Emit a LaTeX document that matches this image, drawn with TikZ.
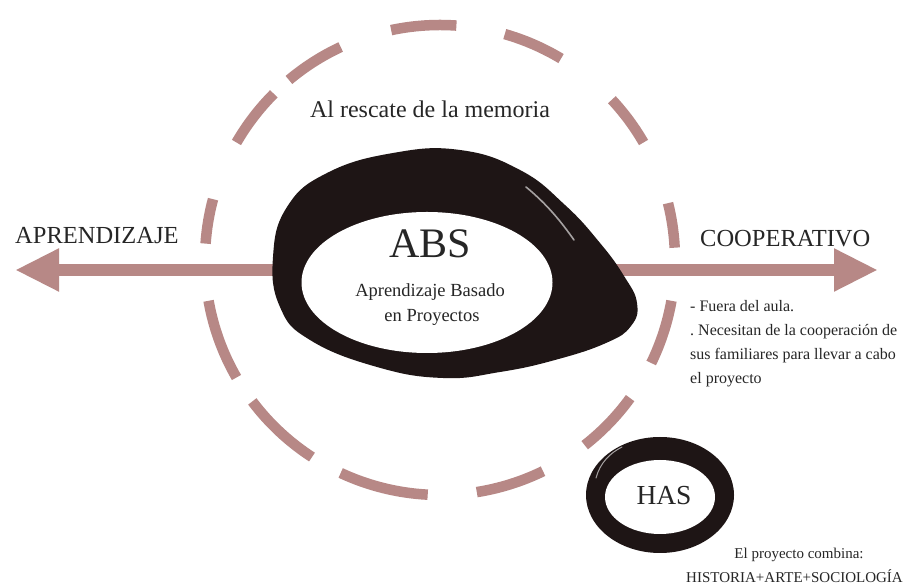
\documentclass[tikz,border=0pt]{standalone}
\usepackage{fontspec}
\setmainfont{Liberation Serif}
\usetikzlibrary{shapes.geometric,arrows.meta}
\definecolor{dustpink}{RGB}{183,136,134}
\definecolor{inkblack}{RGB}{30,21,21}
\pgfdeclarelayer{bg}
\pgfsetlayers{bg,main}
\frenchspacing
\begin{document}
\begin{tikzpicture}[x=1pt,y=1pt,
  brushdash/.style={draw=dustpink,line width=10.5pt},
  bigarrow/.style={draw=dustpink,line width=12pt,-{Triangle[width=40pt,length=44pt]}},
  whitehole/.style={ellipse,fill=white,inner sep=0pt},
  inkring/.style={fill=inkblack},
  sheen/.style={draw=white!60!inkblack,line width=1.6pt,line cap=round},
  lbl/.style={inner sep=0pt,text=black!85}]
\useasboundingbox (0,0) rectangle (904,588);

% ---- main nodes ----
\node[whitehole,minimum width=251pt,minimum height=141pt] (abs) at (427,305.5) {};
\node[lbl,anchor=base,font=\fontsize{42}{42}\selectfont] (abst) at (430,330) {ABS};
\node[lbl,anchor=base,font=\fontsize{18.5}{20}\selectfont] (absa) at (430,291) {Aprendizaje Basado};
\node[lbl,anchor=base,font=\fontsize{18.5}{20}\selectfont] (absb) at (432,266) {en Proyectos};

\node[whitehole,minimum width=110pt,minimum height=74pt] (has) at (660,91) {};
\node[lbl,anchor=base,font=\fontsize{27.5}{28}\selectfont] (hast) at (664,83) {HAS};

\node[lbl,anchor=base,font=\fontsize{24}{26}\selectfont] (memo) at (430,470) {Al rescate de la memoria};
\node[lbl,anchor=base west,font=\fontsize{24.5}{26}\selectfont] (apr) at (15,344) {APRENDIZAJE};
\node[lbl,anchor=base west,font=\fontsize{24.5}{26}\selectfont] (coop) at (700,341) {COOPERATIVO};

\node[lbl,anchor=base west,font=\fontsize{16}{18}\selectfont] (r1) at (690,276) {- Fuera del aula.};
\node[lbl,anchor=base west,font=\fontsize{16}{18}\selectfont] (r2) at (690,252) {. Necesitan de la cooperación de};
\node[lbl,anchor=base west,font=\fontsize{16}{18}\selectfont] (r3) at (690,228) {sus familiares para llevar a cabo};
\node[lbl,anchor=base west,font=\fontsize{16}{18}\selectfont] (r4) at (690,204) {el proyecto};

\node[lbl,anchor=base,font=\fontsize{15}{17}\selectfont] (c1) at (799,29) {El proyecto combina:};
\node[lbl,anchor=base east,font=\fontsize{15}{17}\selectfont] (c2) at (903,5) {HISTORIA+ARTE+SOCIOLOGÍA};

\coordinate (ltip) at (15,318);
\coordinate (rtip) at (878,318);

\begin{pgfonlayer}{bg}
  \fill[white] (0,0) rectangle (904,588);
  % dashed brush circle
  \foreach \a/\b in {86/102,59/74,30/43,3/14,-26/-10,-52/-36,-81/-64,-115/-93,-143/-123,-170/-150,165/176,135/150,115/130}{
    \draw[brushdash] ([shift={(\a:235)}]440,328) arc[start angle=\a,end angle=\b,radius=235];
  }
  % arrows
  \draw[bigarrow] (abs.center |- ltip) -- (ltip);
  \draw[bigarrow] (abs.center |- rtip) -- (rtip);
  % ABS ink blob
  \fill[inkring] plot[smooth cycle,tension=0.75] coordinates {
    (287,381) (327,415) (393,435) (460,438) (520,418) (565,383) (600,345)
    (624,312) (637,285) (631,262) (606,245) (555,228) (500,216) (443,210)
    (377,221) (310,248) (280,281) (273,331)};
  \draw[sheen] (526,401) .. controls (548,383) and (562,365) .. (574,348);
  % HAS ink ring
  \fill[inkring] (660,93) ellipse[x radius=74,y radius=58];
  \draw[sheen,line width=1pt] (596,110) .. controls (600,125) and (610,135) .. (622,141);
\end{pgfonlayer}
\end{tikzpicture}
\end{document}
